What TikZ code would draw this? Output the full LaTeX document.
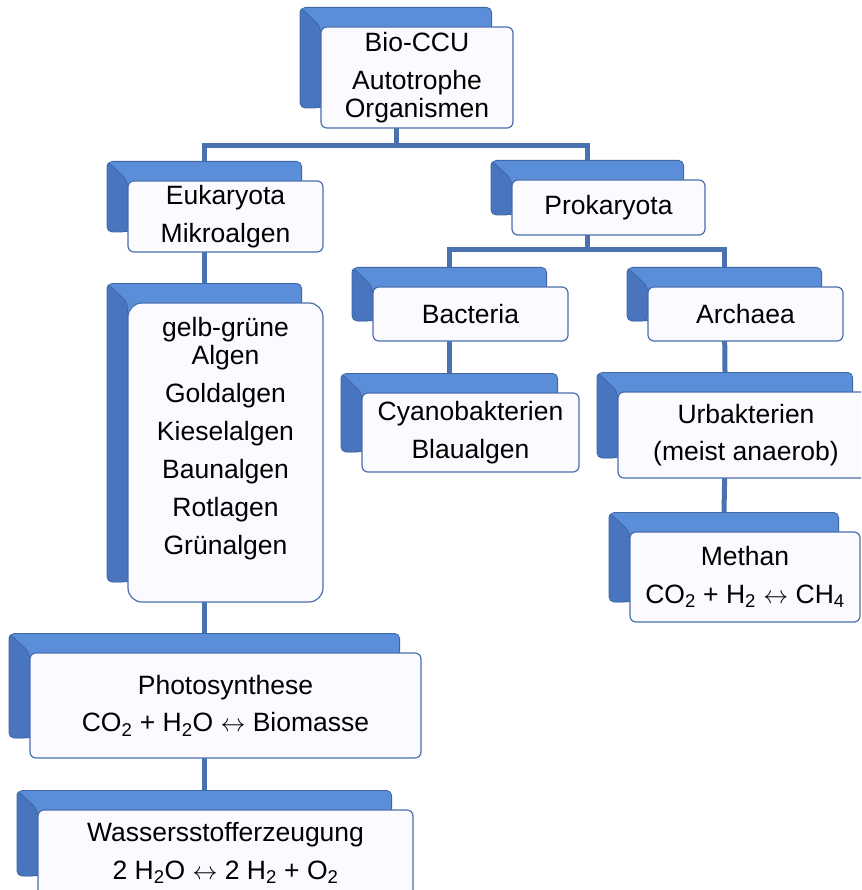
\documentclass[tikz,border=0pt]{standalone}
\usepackage{fontspec}
\setmainfont{Liberation Sans}
\usepackage{tikz}
\usetikzlibrary{calc, fit, backgrounds}

\definecolor{cardline}{HTML}{4A6FAE}
\definecolor{cardfill}{HTML}{FBFBFF}
\definecolor{tabtop}{HTML}{5B8ED8}
\definecolor{tableft}{HTML}{4875BD}
\definecolor{tabedge}{HTML}{3F67A6}
\definecolor{linkblue}{HTML}{4A72AE}

\begin{document}
\begin{tikzpicture}[x=1pt, y=-1pt,
  card/.style={rectangle, draw=cardline, line width=1.2pt, fill=cardfill, rounded corners=6pt, align=center, inner sep=0pt, font=\fontsize{26.5}{28}\selectfont},
  tab/.style={rectangle, fill=tabtop, draw=tabedge, line width=0.8pt, rounded corners=5pt, inner sep=0pt},
  tabside/.style={fill=tableft, draw=tabedge, line width=0.8pt, rounded corners=5pt},
  link/.style={draw=linkblue, line width=5pt},
]
\useasboundingbox (0,0) rectangle (861,890);
\clip (0,0) rectangle (861,890);

\node[card, minimum width=192pt, minimum height=101pt] (ccu) at (417,77.5) {Bio-CCU\\[9.5pt]Autotrophe\\Organismen};
\node[card, minimum width=195pt, minimum height=71pt] (euk) at (225.5,216.5) {Eukaryota\\[9.5pt]Mikroalgen};
\node[card, minimum width=193pt, minimum height=55pt] (pro) at (608.5,207.5) {Prokaryota};
\node[card, minimum width=195pt, minimum height=54pt] (bac) at (470.5,314) {Bacteria};
\node[card, minimum width=195pt, minimum height=54pt] (arc) at (745.5,314) {Archaea};
\node[card, minimum width=217pt, minimum height=79pt] (cya) at (470.5,432.5) {Cyanobakterien\\[9.5pt]Blaualgen};
\node[card, minimum width=256pt, minimum height=86pt] (urb) at (746,435) {Urbakterien\\[9.5pt](meist anaerob)};
\node[card, minimum width=230pt, minimum height=90pt] (met) at (745,577) {Methan\\[9.5pt]CO\textsubscript{2} + H\textsubscript{2} $\leftrightarrow$ CH\textsubscript{4}};
\node[card, rounded corners=14pt, minimum width=195pt, minimum height=299pt] (lst) at (225.5,452.5) {gelb-grüne\\Algen\\[10pt]Goldalgen\\[10pt]Kieselalgen\\[10pt]Baunalgen\\[10pt]Rotlagen\\[10pt]Grünalgen\\[5pt]~};
\node[card, minimum width=391pt, minimum height=105pt] (pho) at (225.5,705.5) {Photosynthese\\[9.5pt]CO\textsubscript{2} + H\textsubscript{2}O $\leftrightarrow$ Biomasse};
\node[card, minimum width=375pt, minimum height=86pt] (was) at (225.5,853) {Wassersstofferzeugung\\[9.5pt]2 H\textsubscript{2}O $\leftrightarrow$ 2 H\textsubscript{2} + O\textsubscript{2}};

\begin{scope}[on background layer]
  \foreach \n in {ccu,euk,pro,bac,arc,cya,urb,met,lst,pho,was} {
    \node[tab, fit={($(\n.north west)+(-20,-19)$) ($(\n.south east)+(-22,-21)$)}] (\n-t) {};
    \path[tabside] (\n-t.north west) -- (\n.north west) -- (\n.west |- \n-t.south) -- (\n-t.south west) -- cycle;
  }
  \draw[link] (ccu-t.south) -- ++(0,38) -| (euk-t.north);
  \draw[link] (ccu-t.south) -- ++(0,38) -| (pro-t.north);
  \draw[link] (pro-t.south) -- ++(0,35) -| (bac-t.north);
  \draw[link] (pro-t.south) -- ++(0,35) -| (arc-t.north);
  \draw[link] (bac-t.south) -- (cya-t.north);
  \draw[link] (arc-t.south) -- (urb-t.north);
  \draw[link] (urb-t.south) -- (met-t.north);
  \draw[link] (euk-t.south) -- (lst-t.north);
  \draw[link] (lst-t.south) -- (pho-t.north);
  \draw[link] (pho-t.south) -- (was-t.north);
\end{scope}
\end{tikzpicture}
\end{document}
